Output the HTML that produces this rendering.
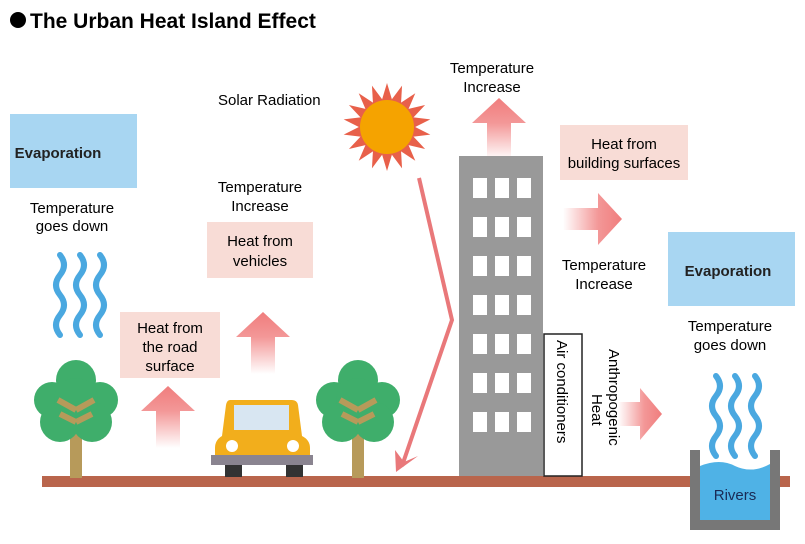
<!DOCTYPE html>
<html><head><meta charset="utf-8"><style>
body{margin:0;background:#fff;}
svg{display:block;font-family:"Liberation Sans",Arial,sans-serif;}
</style></head><body>
<svg width="805" height="544" viewBox="0 0 805 544" xmlns="http://www.w3.org/2000/svg">
<defs>
<linearGradient id="gu" x1="0" y1="1" x2="0" y2="0"><stop offset="0" stop-color="#f07d7d" stop-opacity="0"/><stop offset="0.6" stop-color="#f07d7d" stop-opacity="0.8"/><stop offset="1" stop-color="#f07d7d"/></linearGradient>
<linearGradient id="gr" x1="0" y1="0" x2="1" y2="0"><stop offset="0" stop-color="#f07d7d" stop-opacity="0"/><stop offset="0.6" stop-color="#f07d7d" stop-opacity="0.8"/><stop offset="1" stop-color="#f07d7d"/></linearGradient>
<g id="upA"><polygon points="-27,25 0,0 27,25 12,25 12,62 -12,62 -12,25" fill="url(#gu)"/></g>
<g id="wave"><path d="M0,0 q8,10 0,20 q-8,10 0,20 q8,10 0,20 q-8,10 0,20" fill="none" stroke="#4aa8e0" stroke-width="6" stroke-linecap="round"/></g>
<g id="tree">
<rect x="-6" y="40" width="12" height="78" fill="#b79a5a"/>
<circle cx="0" cy="20" r="20" fill="#3fae6b"/><circle cx="-24" cy="40" r="18" fill="#3fae6b"/><circle cx="24" cy="40" r="18" fill="#3fae6b"/>
<circle cx="-16" cy="62" r="20" fill="#3fae6b"/><circle cx="16" cy="62" r="20" fill="#3fae6b"/><circle cx="0" cy="40" r="22" fill="#3fae6b"/>
<path d="M0,50 L-18,40 M0,62 L-16,54 M0,50 L18,40 M0,62 L16,54" stroke="#b79a5a" stroke-width="6"/>
</g>
</defs>
<circle cx="18" cy="20" r="8" fill="#000"/>
<text x="30" y="28" font-size="21" font-weight="bold">The Urban Heat Island Effect</text>

<rect x="10" y="114" width="127" height="74" fill="#a8d6f2"/>
<text x="58" y="158" font-size="15" font-weight="bold" text-anchor="middle" fill="#222">Evaporation</text>
<text x="72" y="213" font-size="15" text-anchor="middle">Temperature</text>
<text x="72" y="231" font-size="15" text-anchor="middle">goes down</text>
<use href="#wave" x="60" y="255"/><use href="#wave" x="80" y="255"/><use href="#wave" x="100" y="255"/>

<rect x="42" y="476" width="748" height="11" fill="#b9654c"/>

<use href="#tree" x="76" y="360"/>
<use href="#tree" x="358" y="360"/>

<rect x="120" y="312" width="100" height="66" fill="#f8dcd6"/>
<text x="170" y="333" font-size="15" text-anchor="middle">Heat from</text>
<text x="170" y="352" font-size="15" text-anchor="middle">the road</text>
<text x="170" y="371" font-size="15" text-anchor="middle">surface</text>
<use href="#upA" x="168" y="386"/>
<use href="#upA" x="263" y="312"/>

<rect x="225" y="465" width="17" height="12" fill="#333"/><rect x="286" y="465" width="17" height="12" fill="#333"/>
<path d="M230,400 L292,400 Q297,400 298,405 L302,436 Q310,440 310,448 L310,456 L215,456 L215,448 Q215,440 222,436 L226,405 Q227,400 230,400Z" fill="#f2ae1c"/>
<rect x="234" y="405" width="55" height="25" fill="#d8e6f2"/>
<circle cx="232" cy="446" r="6" fill="#fff"/><circle cx="293" cy="446" r="6" fill="#fff"/>
<rect x="211" y="455" width="102" height="10" fill="#8a8490"/>

<text x="260" y="192" font-size="15" text-anchor="middle">Temperature</text>
<text x="260" y="211" font-size="15" text-anchor="middle">Increase</text>
<rect x="207" y="222" width="106" height="56" fill="#f8dcd6"/>
<text x="260" y="246" font-size="15" text-anchor="middle">Heat from</text>
<text x="260" y="266" font-size="15" text-anchor="middle">vehicles</text>

<text x="218" y="105" font-size="15">Solar Radiation</text>
<g transform="translate(387,127)">
<g fill="#e8604a">
<polygon points="0,-44 6,-24 -6,-24" transform="rotate(0)"/><polygon points="0,-44 6,-24 -6,-24" transform="rotate(20)"/><polygon points="0,-44 6,-24 -6,-24" transform="rotate(40)"/><polygon points="0,-44 6,-24 -6,-24" transform="rotate(60)"/><polygon points="0,-44 6,-24 -6,-24" transform="rotate(80)"/><polygon points="0,-44 6,-24 -6,-24" transform="rotate(100)"/><polygon points="0,-44 6,-24 -6,-24" transform="rotate(120)"/><polygon points="0,-44 6,-24 -6,-24" transform="rotate(140)"/><polygon points="0,-44 6,-24 -6,-24" transform="rotate(160)"/><polygon points="0,-44 6,-24 -6,-24" transform="rotate(180)"/><polygon points="0,-44 6,-24 -6,-24" transform="rotate(200)"/><polygon points="0,-44 6,-24 -6,-24" transform="rotate(220)"/><polygon points="0,-44 6,-24 -6,-24" transform="rotate(240)"/><polygon points="0,-44 6,-24 -6,-24" transform="rotate(260)"/><polygon points="0,-44 6,-24 -6,-24" transform="rotate(280)"/><polygon points="0,-44 6,-24 -6,-24" transform="rotate(300)"/><polygon points="0,-44 6,-24 -6,-24" transform="rotate(320)"/><polygon points="0,-44 6,-24 -6,-24" transform="rotate(340)"/>
</g>
<circle r="27" fill="#f5a300"/>
</g>
<polyline points="419,178 452,320 402,466" fill="none" stroke="#e9787a" stroke-width="4"/>
<polygon points="396,472 395,450 404,462 418,456" fill="#e9787a"/>

<text x="492" y="73" font-size="15" text-anchor="middle">Temperature</text>
<text x="492" y="92" font-size="15" text-anchor="middle">Increase</text>
<use href="#upA" x="499" y="98"/>
<rect x="459" y="156" width="84" height="320" fill="#999"/>
<g fill="#fff">
<rect x="473" y="178" width="14" height="20"/><rect x="495" y="178" width="14" height="20"/><rect x="517" y="178" width="14" height="20"/>
<rect x="473" y="217" width="14" height="20"/><rect x="495" y="217" width="14" height="20"/><rect x="517" y="217" width="14" height="20"/>
<rect x="473" y="256" width="14" height="20"/><rect x="495" y="256" width="14" height="20"/><rect x="517" y="256" width="14" height="20"/>
<rect x="473" y="295" width="14" height="20"/><rect x="495" y="295" width="14" height="20"/><rect x="517" y="295" width="14" height="20"/>
<rect x="473" y="334" width="14" height="20"/><rect x="495" y="334" width="14" height="20"/><rect x="517" y="334" width="14" height="20"/>
<rect x="473" y="373" width="14" height="20"/><rect x="495" y="373" width="14" height="20"/><rect x="517" y="373" width="14" height="20"/>
<rect x="473" y="412" width="14" height="20"/><rect x="495" y="412" width="14" height="20"/><rect x="517" y="412" width="14" height="20"/>
</g>
<rect x="544" y="334" width="38" height="142" fill="#fff" stroke="#222" stroke-width="1.5"/>
<text transform="translate(557,340) rotate(90)" font-size="15">Air conditioners</text>
<text transform="translate(609,349) rotate(90)" font-size="15">Anthropogenic</text>
<text transform="translate(592,394) rotate(90)" font-size="15">Heat</text>
<polygon points="618,402 640,402 640,388 662,414 640,440 640,426 618,426" fill="url(#gr)"/>

<rect x="560" y="125" width="128" height="55" fill="#f8dcd6"/>
<text x="624" y="149" font-size="15" text-anchor="middle">Heat from</text>
<text x="624" y="168" font-size="15" text-anchor="middle">building surfaces</text>
<polygon points="563,208 598,208 598,193 622,219 598,245 598,230 563,230" fill="url(#gr)"/>
<text x="604" y="270" font-size="15" text-anchor="middle">Temperature</text>
<text x="604" y="289" font-size="15" text-anchor="middle">Increase</text>

<rect x="668" y="232" width="127" height="74" fill="#a8d6f2"/>
<text x="728" y="276" font-size="15" font-weight="bold" text-anchor="middle" fill="#222">Evaporation</text>
<text x="730" y="331" font-size="15" text-anchor="middle">Temperature</text>
<text x="730" y="350" font-size="15" text-anchor="middle">goes down</text>
<use href="#wave" x="716" y="376"/><use href="#wave" x="735" y="376"/><use href="#wave" x="755" y="376"/>

<rect x="690" y="450" width="10" height="80" fill="#777"/>
<rect x="770" y="450" width="10" height="80" fill="#777"/>
<rect x="690" y="520" width="90" height="10" fill="#777"/>
<path d="M700,466 Q720,458 735,466 Q752,474 770,464 L770,520 L700,520Z" fill="#4fb2e6"/>
<text x="735" y="500" font-size="15" text-anchor="middle" fill="#1a2a55">Rivers</text>
</svg>
</body></html>
